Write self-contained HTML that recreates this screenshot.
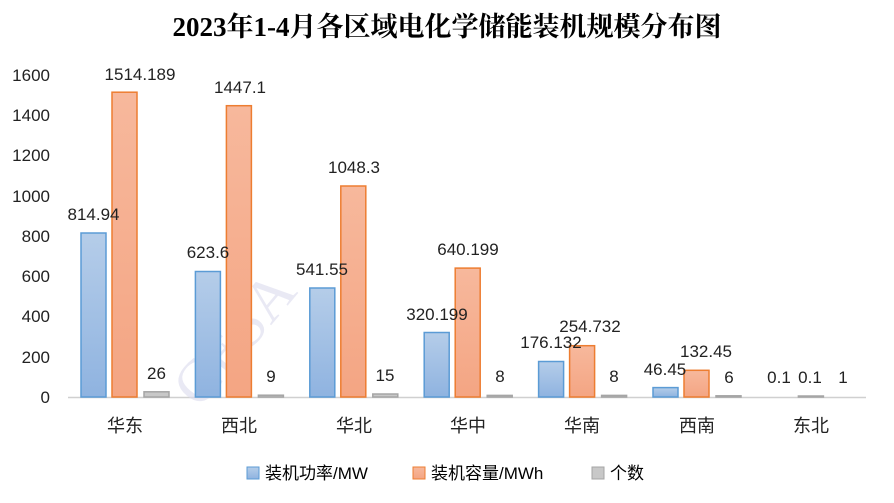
<!DOCTYPE html>
<html><head><meta charset="utf-8"><style>
body{margin:0;background:#fff;}
svg text{font-family:"Liberation Sans","Noto Sans CJK SC",sans-serif;}
</style></head><body>
<svg width="894" height="498" xmlns="http://www.w3.org/2000/svg">
<defs>
<linearGradient id="gb" x1="0" y1="0" x2="0" y2="1"><stop offset="0" stop-color="#b5cde9"/><stop offset="1" stop-color="#8fb3e0"/></linearGradient>
<linearGradient id="go" x1="0" y1="0" x2="0" y2="1"><stop offset="0" stop-color="#f7b89c"/><stop offset="1" stop-color="#f4a583"/></linearGradient>
</defs>
<text x="447" y="36" text-anchor="middle" font-size="27" font-weight="bold" style="font-family:'Liberation Serif','Noto Serif CJK SC',serif">2023年1-4月各区域电化学储能装机规模分布图</text>
<g font-size="17" fill="#222" text-anchor="end">
<text x="50" y="403">0</text><text x="50" y="363">200</text><text x="50" y="322">400</text><text x="50" y="282">600</text><text x="50" y="242">800</text><text x="50" y="202">1000</text><text x="50" y="161">1200</text><text x="50" y="121">1400</text><text x="50" y="81">1600</text>
</g>
<line x1="68" y1="397.5" x2="866" y2="397.5" stroke="#d0d0d0" stroke-width="1.5"/>
<text x="200" y="410" font-size="60" fill="#dcdcee" opacity="0.6" transform="rotate(-50 200 410)" style="font-family:'Liberation Serif',serif">CESA</text>
<g stroke-width="1.5">
<rect x="81" y="233" width="25" height="164" fill="url(#gb)" stroke="#5b9bd5"/>
<rect x="112" y="92.2" width="25" height="304.8" fill="url(#go)" stroke="#ed7d31"/>
<rect x="144" y="391.8" width="25" height="5.2" fill="#c8c8c8" stroke="#a5a5a5"/>
<rect x="195.4" y="271.5" width="25" height="125.5" fill="url(#gb)" stroke="#5b9bd5"/>
<rect x="226.4" y="105.7" width="25" height="291.3" fill="url(#go)" stroke="#ed7d31"/>
<rect x="258.4" y="395.2" width="25" height="1.8" fill="#c8c8c8" stroke="#a5a5a5"/>
<rect x="309.8" y="288" width="25" height="109" fill="url(#gb)" stroke="#5b9bd5"/>
<rect x="340.8" y="186" width="25" height="211" fill="url(#go)" stroke="#ed7d31"/>
<rect x="372.8" y="394" width="25" height="3" fill="#c8c8c8" stroke="#a5a5a5"/>
<rect x="424.2" y="332.5" width="25" height="64.5" fill="url(#gb)" stroke="#5b9bd5"/>
<rect x="455.2" y="268.1" width="25" height="128.9" fill="url(#go)" stroke="#ed7d31"/>
<rect x="487.2" y="395.4" width="25" height="1.6" fill="#c8c8c8" stroke="#a5a5a5"/>
<rect x="538.6" y="361.5" width="25" height="35.5" fill="url(#gb)" stroke="#5b9bd5"/>
<rect x="569.6" y="345.7" width="25" height="51.3" fill="url(#go)" stroke="#ed7d31"/>
<rect x="601.6" y="395.4" width="25" height="1.6" fill="#c8c8c8" stroke="#a5a5a5"/>
<rect x="653" y="387.6" width="25" height="9.4" fill="url(#gb)" stroke="#5b9bd5"/>
<rect x="684" y="370.3" width="25" height="26.7" fill="url(#go)" stroke="#ed7d31"/>
<rect x="716" y="395.8" width="25" height="1.2" fill="#c8c8c8" stroke="#a5a5a5"/>
<rect x="798.4" y="396" width="25" height="1" fill="#c8c8c8" stroke="#a5a5a5"/>
</g>
<g font-size="17" fill="#222" text-anchor="middle">
<text x="93.5" y="220">814.94</text><text x="140" y="80">1514.189</text><text x="156.5" y="379">26</text>
<text x="208" y="258">623.6</text><text x="240" y="93">1447.1</text><text x="271" y="382">9</text>
<text x="322" y="275">541.55</text><text x="354" y="173">1048.3</text><text x="385" y="381">15</text>
<text x="437" y="320">320.199</text><text x="468" y="255">640.199</text><text x="500" y="382">8</text>
<text x="551" y="348">176.132</text><text x="590" y="332">254.732</text><text x="614" y="382">8</text>
<text x="665" y="375">46.45</text><text x="706" y="357">132.45</text><text x="729" y="383">6</text>
<text x="779" y="383">0.1</text><text x="810" y="383">0.1</text><text x="843" y="383">1</text>
</g>
<g font-size="18" fill="#222" text-anchor="middle">
<text x="125" y="432">华东</text><text x="239" y="432">西北</text><text x="354" y="432">华北</text><text x="468" y="432">华中</text><text x="582" y="432">华南</text><text x="697" y="432">西南</text><text x="811" y="432">东北</text>
</g>
<g font-size="17">
<rect x="247" y="467" width="12" height="12" fill="url(#gb)" stroke="#5b9bd5"/><text x="265" y="479">装机功率/MW</text>
<rect x="413" y="467" width="12" height="12" fill="url(#go)" stroke="#ed7d31"/><text x="431" y="479">装机容量/MWh</text>
<rect x="592" y="467" width="12" height="12" fill="#c8c8c8" stroke="#a5a5a5"/><text x="610" y="479">个数</text>
</g>
</svg>
</body></html>
